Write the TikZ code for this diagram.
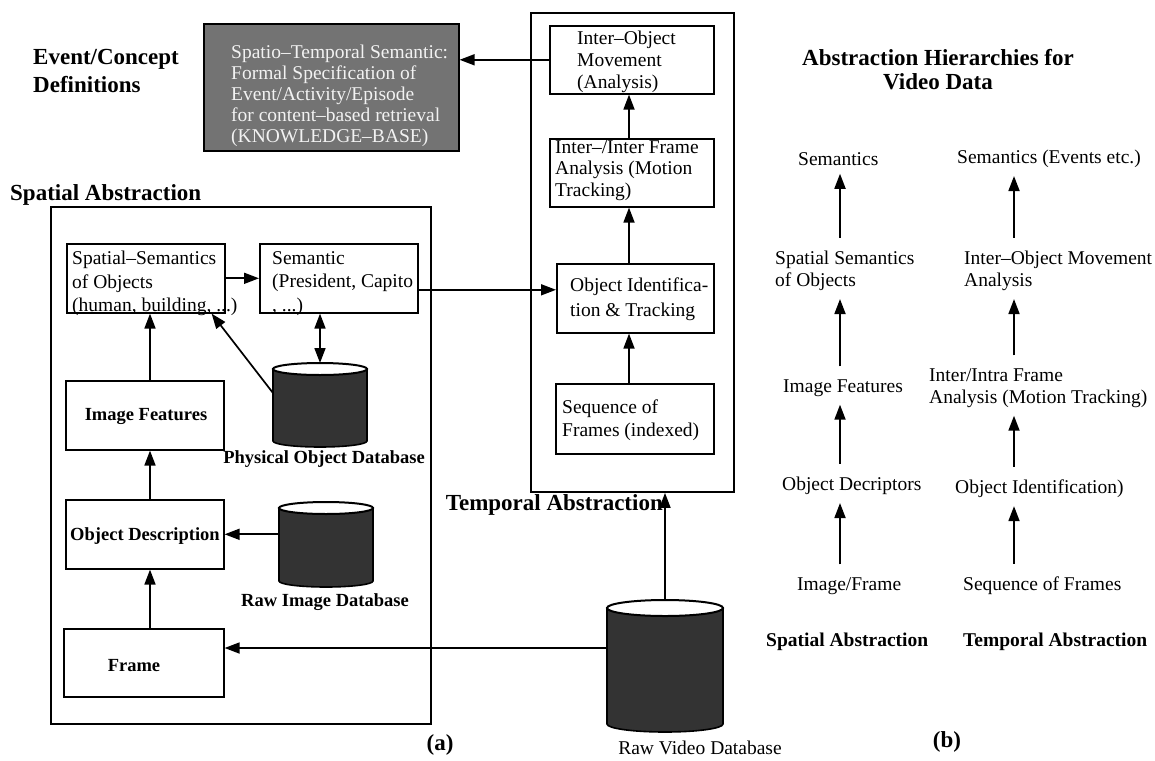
\documentclass[tikz,border=0pt]{standalone}
\usepackage{fontspec}
\setmainfont{Liberation Serif}
\usetikzlibrary{arrows.meta}
\newcommand{\dbcyl}[3]{%
  \path[fill=black!80,draw=black,line width=1.6pt] ([yshift=-#3pt]#1.north west) -- ([yshift=#3pt]#1.south west) arc[start angle=180,end angle=360,x radius=#2pt,y radius=#3pt] -- ([yshift=-#3pt]#1.north east) -- cycle;
  \path[fill=white,draw=black,line width=2pt] ([yshift=-#3pt]#1.north) ellipse [x radius=#2pt,y radius=#3pt];
}
\begin{document}
\begin{tikzpicture}[x=1pt,y=-1pt,
  boxs/.style={draw,line width=1.6pt,anchor=north west,inner sep=0pt},
  outerbox/.style={draw,line width=1.9pt,anchor=north west,inner sep=0pt},
  txt/.style={anchor=north west,inner sep=0pt,align=left,font=\fontsize{19.5}{23.5}\selectfont},
  lbl/.style={font=\bfseries\fontsize{18.5}{22}\selectfont,inner sep=0pt},
  dbnode/.style={anchor=north west,inner sep=0pt,outer sep=0pt},
  arr/.style={line width=1.7pt,-{Triangle[length=15pt,width=11pt]}},
  darr/.style={line width=1.7pt,{Triangle[length=15pt,width=11pt]}-{Triangle[length=15pt,width=11pt]}},
  hd/.style={font=\bfseries\fontsize{23}{28}\selectfont,inner sep=0pt,align=left},
  rt/.style={font=\fontsize{19.5}{22}\selectfont,inner sep=2pt,align=left,anchor=west},
  rtb/.style={font=\bfseries\fontsize{19.5}{22}\selectfont,inner sep=2pt,anchor=west},
  rarr/.style={line width=1.8pt,-{Triangle[length=15pt,width=11pt]},shorten <=11pt,shorten >=6pt},
]
\fill[white] (0,0) rectangle (1155,760);
\useasboundingbox (0,0) rectangle (1155,760);

% headings
\node[hd,anchor=north west] (evt) at (33,49) {Event/Concept\\Definitions};
\node[hd,anchor=north west] (sal) at (10,184) {Spatial Abstraction};
\node[hd,align=center,anchor=north,font=\bfseries\fontsize{23}{24}\selectfont] (rh) at (938,49) {Abstraction Hierarchies for\\Video Data};
\node[hd] (la) at (440,745) {(a)};
\node[hd] (lb) at (947,742) {(b)};

% knowledge base
\node[boxs,fill=black!55,minimum width=255pt,minimum height=127pt] (kb) at (203,23) {};
\node[txt,text=black!5,font=\fontsize{19.5}{21}\selectfont] (kbt) at (231,45) {Spatio–Temporal Semantic:\\Formal Specification of\\Event/Activity/Episode\\for content–based retrieval\\(KNOWLEDGE–BASE)};

% outer boxes
\node[outerbox,minimum width=380pt,minimum height=517pt] (sbox) at (50,206) {};
\node[outerbox,minimum width=203pt,minimum height=479pt] (tbox) at (530,12) {};
\node[hd,anchor=east] (tal) at (663,505) {Temporal Abstraction};

% spatial boxes
\node[boxs,minimum width=158pt,minimum height=69pt] (ss) at (66,243) {};
\node[txt] (sst) at (72,251) {Spatial–Semantics\\of Objects\\(human, building, ...)};
\node[boxs,minimum width=158pt,minimum height=69pt] (sem) at (259,243) {};
\node[txt] (semt) at (272,251) {Semantic\\(President, Capito\\, ...)};
\node[boxs,minimum width=158pt,minimum height=69pt] (imf) at (65,380) {};
\node[lbl] (imft) at (146,416) {Image Features};
\node[boxs,minimum width=158pt,minimum height=69pt] (od) at (65,499) {};
\node[lbl] (odt) at (145,536) {Object Description};
\node[boxs,minimum width=160pt,minimum height=68pt] (fr) at (63,628) {};
\node[lbl] (frt) at (134,666) {Frame};

% databases
\node[dbnode,minimum width=94pt,minimum height=84pt] (pdb) at (273,363) {};
\node[dbnode,minimum width=94pt,minimum height=85pt] (rdb) at (279,502) {};
\node[dbnode,minimum width=116pt,minimum height=132pt] (vdb) at (607,600) {};
\dbcyl{pdb}{47}{6}
\dbcyl{rdb}{47}{6}
\dbcyl{vdb}{58}{8}
\node[lbl] (pdbl) at (324,459) {Physical Object Database};
\node[lbl] (rdbl) at (325,602) {Raw Image Database};
\node[font=\fontsize{19.5}{22}\selectfont,inner sep=0pt] (vdbl) at (700,748) {Raw Video Database};

% temporal boxes
\node[boxs,minimum width=164pt,minimum height=68pt] (io) at (549,25) {};
\node[txt,font=\fontsize{19.5}{22}\selectfont] (iot) at (577,31) {Inter–Object\\Movement\\(Analysis)};
\node[boxs,minimum width=164pt,minimum height=68pt] (ifa) at (549,138) {};
\node[txt,font=\fontsize{19.5}{21.5}\selectfont] (ifat) at (555,140) {Inter–/Inter Frame\\Analysis (Motion\\Tracking)};
\node[boxs,minimum width=157pt,minimum height=69pt] (oi) at (556,263) {};
\node[txt,font=\fontsize{19.5}{25}\selectfont] (oit) at (570,278) {Object Identifica-\\tion \& Tracking};
\node[boxs,minimum width=158pt,minimum height=70pt] (sq) at (555,383) {};
\node[txt,font=\fontsize{19.5}{23}\selectfont] (sqt) at (562,400) {Sequence of\\Frames (indexed)};

% connectors (a)
\coordinate (ax) at (150,0);
\coordinate (tx) at (629,0);
\draw[arr] (ss.east) -- (sem.west);
\draw[arr] ([yshift=-11.5pt]sem.east) -- ([yshift=-11.5pt]sem.east -| oi.west);
\draw[darr] (pdb.north) -- (pdb.north |- sem.south);
\draw[arr] ([yshift=12pt]pdb.west) -- ([xshift=-14pt]ss.south east);
\draw[arr] (imf.north -| ax) -- (ss.south -| ax);
\draw[arr] (od.north -| ax) -- (imf.south -| ax);
\draw[arr] (fr.north -| ax) -- (od.south -| ax);
\draw[arr] (rdb.west |- od.east) -- (od.east);
\draw[arr] ([yshift=18pt]vdb.west) -- ([yshift=18pt]vdb.west -| fr.east);
\draw[arr] (vdb.north) -- (vdb.north |- tbox.south);
\draw[arr] (sq.north -| tx) -- (oi.south -| tx);
\draw[arr] (oi.north -| tx) -- (ifa.south -| tx);
\draw[arr] (ifa.north -| tx) -- (io.south -| tx);
\draw[arr] (io.west) -- (io.west -| kb.east);

% panel (b)
\coordinate (lc) at (840,0);
\coordinate (rc) at (1014,0);
\node[rt] (r1) at (796,159) {Semantics};
\node[rt] (r2) at (773,271) {Spatial Semantics\\of Objects};
\node[rt] (r3) at (781,388) {Image Features};
\node[rt] (r4) at (780,486) {Object Decriptors};
\node[rt] (r5) at (795,586) {Image/Frame};
\node[rtb] (r6) at (764,642) {Spatial Abstraction};
\node[rt] (t1) at (955,159) {Semantics (Events etc.)};
\node[rt] (t2) at (962,271) {Inter–Object Movement\\Analysis};
\node[rt] (t3) at (927,388) {Inter/Intra Frame\\Analysis (Motion Tracking)};
\node[rt] (t4) at (953,489) {Object Identification)};
\node[rt] (t5) at (961,586) {Sequence of Frames};
\node[rtb] (t6) at (961,642) {Temporal Abstraction};
\draw[rarr] (r2.north -| lc) -- (r1.south -| lc);
\draw[rarr] (r3.north -| lc) -- (r2.south -| lc);
\draw[rarr] (r4.north -| lc) -- (r3.south -| lc);
\draw[rarr] (r5.north -| lc) -- (r4.south -| lc);
\draw[rarr] (t2.north -| rc) -- (t1.south -| rc);
\draw[rarr] (t3.north -| rc) -- (t2.south -| rc);
\draw[rarr] (t4.north -| rc) -- (t3.south -| rc);
\draw[rarr] (t5.north -| rc) -- (t4.south -| rc);
\end{tikzpicture}
\end{document}
